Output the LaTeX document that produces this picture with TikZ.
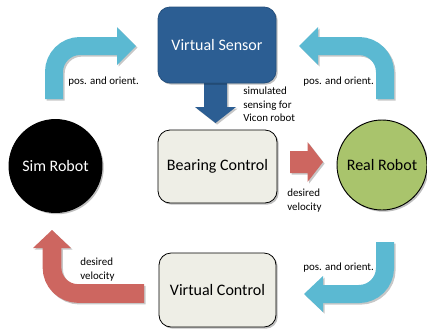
\documentclass[tikz,border=0pt]{standalone}
\usepackage{fontspec}
\setmainfont{Carlito}
\usetikzlibrary{shadows}
\definecolor{vsblue}{HTML}{2C5E93}
\definecolor{lblue}{HTML}{5BB9D2}
\definecolor{lred}{HTML}{CD6660}
\definecolor{beige}{HTML}{EEEEE6}
\definecolor{rgreen}{HTML}{A9C46C}
\tikzset{
  shaftb/.style={line width=13.5pt, rounded corners=19.5pt},
  shaftr/.style={line width=14pt, rounded corners=19.5pt},
  softshadow/.style={drop shadow={shadow xshift=1.3pt, shadow yshift=-1.3pt, opacity=0.25, fill=black}},
  box/.style={rectangle, rounded corners=9pt, draw=black, line width=0.6pt, fill=beige,
    minimum width=88.5pt, minimum height=55pt, font=\fontsize{12}{14}\selectfont, softshadow},
  robot/.style={circle, draw=black, line width=0.7pt, inner sep=0pt, font=\fontsize{12}{14}\selectfont, softshadow},
  small/.style={font=\fontsize{8.2}{10.1}\selectfont, inner sep=0pt, align=left, anchor=west}
}
% block arrows, #1 = blue, #2 = red, #3 = dark blue
\newcommand\BlockArrows[3]{%
  \draw[shaftb,draw=#1] (54,99) -- (54,46) -- (118,46);
  \fill[#1] (117,27) -- (136,46) -- (117,65) -- cycle;
  \draw[shaftb,draw=#1] (385,99) -- (385,46) -- (317,46);
  \fill[#1] (318,27) -- (299,46) -- (318,65) -- cycle;
  \draw[shaftb,draw=#1] (385,242) -- (385,294) -- (322,294);
  \fill[#1] (323,276) -- (304,294) -- (323,312) -- cycle;
  \draw[shaftr,draw=#2] (144,293.5) -- (52,293.5) -- (52,247);
  \fill[#2] (33,248) -- (52,230) -- (71,248) -- cycle;
  \fill[#2] (290,151) -- (307.5,151) -- (307.5,142) -- (323,162) -- (307.5,182) -- (307.5,173) -- (290,173) -- cycle;
  \fill[#3] (204,83) -- (227,83) -- (227,107) -- (236,107) -- (215.5,123) -- (195,107) -- (204,107) -- cycle;
}
\begin{document}
\begin{tikzpicture}[x=0.75pt, y=-0.75pt]
\useasboundingbox (0,0) rectangle (427,329);
% shadows of the block arrows
\begin{scope}[shift={(1.6,1.6)}, transparency group, opacity=0.22]
  \BlockArrows{black}{black}{black}
\end{scope}
\BlockArrows{lblue}{lred}{vsblue}
% main nodes
\node[box, fill=vsblue, draw=vsblue!85!black, text=white, minimum height=57pt] (vs) at (217,45) {Virtual Sensor};
\node[box, minimum width=89.25pt, minimum height=54.75pt] (bc) at (217.5,166.5) {Bearing Control};
\node[box, minimum width=87.75pt, minimum height=55.5pt] (vc) at (217.5,290) {Virtual Control};
\node[robot, fill=black, text=white, minimum size=69.75pt] (sim) at (55.5,166) {Sim Robot};
\node[robot, fill=rgreen, minimum size=67.5pt] (real) at (382,165) {Real Robot};
% labels
\node[small] (l1) at (68,82) {pos. and orient.};
\node[small] (l2) at (303,82) {pos. and orient.};
\node[small] (l3) at (303,268) {pos. and orient.};
\node[small] (l4) at (243,104.5) {simulated\\sensing for\\Vicon robot};
\node[small] (l5) at (287,200.5) {desired\\velocity};
\node[small] (l6) at (80,269.5) {desired\\velocity};
\end{tikzpicture}
\end{document}
